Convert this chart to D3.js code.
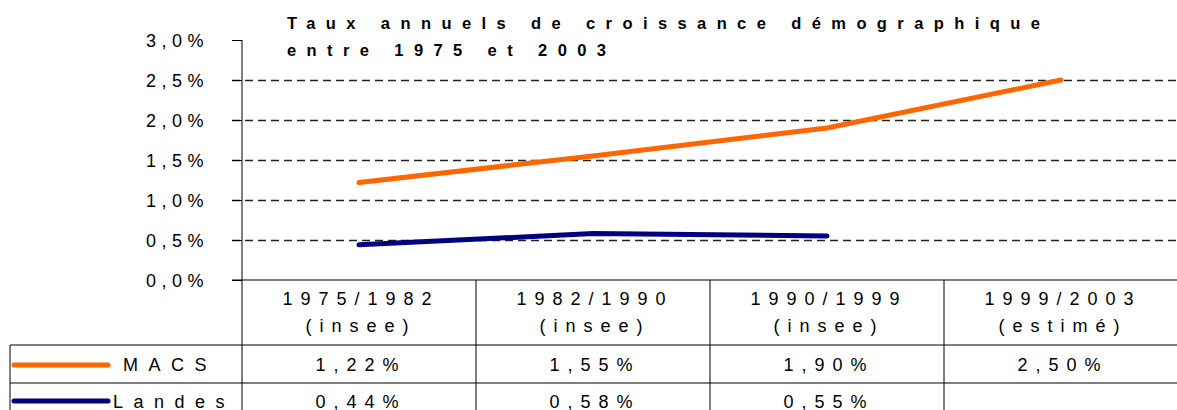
<!DOCTYPE html>
<head>
    <meta charset="utf-8">
    <title>Taux annuels de croissance démographique</title>
    <style>
        body { margin: 0; background: #fff; }
        text { font-family: "Liberation Sans", Arial, sans-serif; fill: #000; }
        .title { font-weight: bold; font-size: 16.5px; letter-spacing: 10.4px; }
        .tick-label { font-size: 18px; letter-spacing: 5.5px; }
        .cell { font-size: 18px; letter-spacing: 8px; }
        .legend-label { font-size: 18px; letter-spacing: 10.5px; }
    </style>
</head>
<body>
    <svg width="1177" height="410"></svg>
    <script src="https://d3js.org/d3.v7.min.js"></script>
    <script>

    // data
    var periods = ["1975/1982", "1982/1990", "1990/1999", "1999/2003"];
    var sources = ["(insee)", "(insee)", "(insee)", "(estimé)"];
    var macs = [1.22, 1.55, 1.90, 2.50];
    var landes = [0.44, 0.58, 0.55, null];
    var seriesNames = ["MACS", "Landes"];
    var seriesColors = ["#ff6600", "#000080"];
    var yTicks = [0, 0.5, 1.0, 1.5, 2.0, 2.5, 3.0];
    var titleLines = ["Taux annuels de croissance démographique", "entre 1975 et 2003"];

    var svg = d3.select("svg"),
        width = +svg.attr("width"),
        plotLeft = 242,
        plotTop = 40,
        plotBottom = 280;

    var x = d3.scaleBand().domain(periods).range([plotLeft, width + 1]);
    var y = d3.scaleLinear().domain([0, 3]).range([plotBottom, plotTop]);

    function fmt(v, digits) {
        return v.toFixed(digits).replace(".", ",") + "%";
    }

    // gridlines (dashed)
    svg.append("g").selectAll("line")
        .data(yTicks.filter(function(d) { return d > 0 && d < 3; }))
        .enter().append("line")
        .attr("x1", plotLeft - 10).attr("x2", width)
        .attr("y1", function(d) { return y(d) + 0.5; })
        .attr("y2", function(d) { return y(d) + 0.5; })
        .attr("stroke", "#222")
        .attr("stroke-width", 1.3)
        .attr("stroke-dasharray", "8,5");

    // y axis
    var yAxis = svg.append("g")
        .attr("transform", "translate(" + plotLeft + ",0)")
        .call(d3.axisLeft(y).tickValues(yTicks).tickSize(10).tickFormat(function() { return ""; }));
    yAxis.select(".domain").remove();
    yAxis.selectAll("line").attr("stroke", "#000");

    svg.append("line")
        .attr("x1", plotLeft).attr("x2", plotLeft)
        .attr("y1", plotTop).attr("y2", 410)
        .attr("stroke", "#000");

    svg.append("g").selectAll("text")
        .data(yTicks)
        .enter().append("text")
        .attr("class", "tick-label")
        .attr("x", 209)
        .attr("y", function(d) { return y(d); })
        .attr("dy", "0.4em")
        .attr("text-anchor", "end")
        .text(function(d) { return d.toFixed(1).replace(".", ",") + "%"; });

    // x axis line / table top
    svg.append("line")
        .attr("x1", plotLeft - 10).attr("x2", width)
        .attr("y1", plotBottom).attr("y2", plotBottom)
        .attr("stroke", "#000");

    // title
    svg.append("g").selectAll("text")
        .data(titleLines)
        .enter().append("text")
        .attr("class", "title")
        .attr("x", 287)
        .attr("y", function(d, i) { return 29 + i * 27; })
        .text(function(d) { return d; });

    // table
    var rowLines = [345, 383];
    svg.append("g").selectAll("line")
        .data(rowLines)
        .enter().append("line")
        .attr("x1", 10).attr("x2", width)
        .attr("y1", function(d) { return d; })
        .attr("y2", function(d) { return d; })
        .attr("stroke", "#000");

    svg.append("line")
        .attr("x1", 10).attr("x2", 10)
        .attr("y1", 345).attr("y2", 410)
        .attr("stroke", "#000");

    svg.append("g").selectAll("line")
        .data(periods.slice(1))
        .enter().append("line")
        .attr("x1", function(d) { return x(d); })
        .attr("x2", function(d) { return x(d); })
        .attr("y1", plotBottom).attr("y2", 410)
        .attr("stroke", "#000");

    var cx = function(d) { return x(d) + x.bandwidth() / 2 + 2; };

    svg.append("g").selectAll("text")
        .data(periods)
        .enter().append("text")
        .attr("class", "cell")
        .attr("x", cx)
        .attr("y", 305)
        .attr("text-anchor", "middle")
        .text(function(d) { return d; });

    svg.append("g").selectAll("text")
        .data(sources)
        .enter().append("text")
        .attr("class", "cell")
        .attr("x", function(d, i) { return cx(periods[i]); })
        .attr("y", 332)
        .attr("text-anchor", "middle")
        .text(function(d) { return d; });

    [macs, landes].forEach(function(vals, s) {
        svg.append("g").selectAll("text")
            .data(vals)
            .enter().append("text")
            .attr("class", "cell")
            .attr("x", function(d, i) { return cx(periods[i]); })
            .attr("y", 371 + s * 37)
            .attr("text-anchor", "middle")
            .text(function(d) { return d == null ? "" : fmt(d, 2); });

        // legend key
        svg.append("line")
            .attr("x1", 14).attr("x2", 108)
            .attr("y1", 365 + s * 36).attr("y2", 365 + s * 36)
            .attr("stroke", seriesColors[s])
            .attr("stroke-width", 5)
            .attr("stroke-linecap", "round");
        svg.append("text")
            .attr("class", "legend-label")
            .attr("x", s === 0 ? 123 : 113)
            .attr("y", 371 + s * 37)
            .text(seriesNames[s]);
    });

    // series lines
    var line = d3.line()
        .defined(function(d) { return d != null; })
        .x(function(d, i) { return x(periods[i]) + x.bandwidth() / 2; })
        .y(function(d) { return y(d); });

    [macs, landes].forEach(function(vals, s) {
        svg.append("path")
            .datum(vals)
            .attr("fill", "none")
            .attr("stroke", seriesColors[s])
            .attr("stroke-width", 5)
            .attr("stroke-linecap", "round")
            .attr("stroke-linejoin", "round")
            .attr("d", line);
    });

    </script>
</body>
</html>
